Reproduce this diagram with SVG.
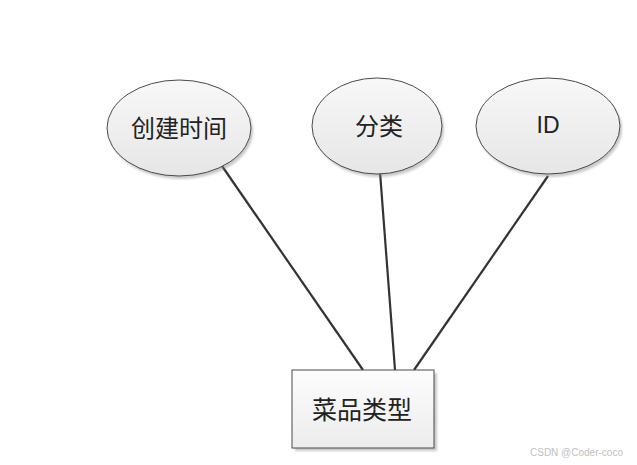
<svg xmlns="http://www.w3.org/2000/svg" width="637" height="465" viewBox="0 0 637 465">
<style>
.ent{stroke:#4a4a4a;stroke-width:1}
.lbl{font-family:"Noto Sans CJK SC","Liberation Sans",sans-serif;font-size:24px;fill:#222;text-anchor:middle;dominant-baseline:central}
.conn line{stroke:#333;stroke-width:2.2}
.wm{font-family:"Liberation Sans","DejaVu Sans",sans-serif;font-size:10px;fill:#c0c0c0}
</style>
<defs>
<linearGradient id="eg" x1="0" y1="0" x2="0" y2="1">
<stop offset="0" stop-color="#f8f8f8"/>
<stop offset="1" stop-color="#e6e6e6"/>
</linearGradient>
<linearGradient id="rg" x1="0" y1="0" x2="0" y2="1">
<stop offset="0" stop-color="#fdfdfd"/>
<stop offset="1" stop-color="#ececec"/>
</linearGradient>
<filter id="blur" x="-10%" y="-10%" width="130%" height="130%"><feGaussianBlur stdDeviation="1.2"/></filter>
</defs>
<g class="conn">
<line x1="222" y1="166" x2="363" y2="370"/>
<line x1="380" y1="172" x2="395" y2="370"/>
<line x1="548" y1="176" x2="414" y2="370"/>
</g>
<g id="attr-time">
<ellipse cx="181" cy="131" rx="72" ry="48" fill="#888" opacity="0.45" filter="url(#blur)"/>
<ellipse class="ent" cx="179" cy="128" rx="72" ry="48" fill="url(#eg)"/>
<text class="lbl" x="179" y="126">创建时间</text>
</g>
<g id="attr-cat">
<ellipse cx="379" cy="129" rx="65" ry="48" fill="#888" opacity="0.45" filter="url(#blur)"/>
<ellipse class="ent" cx="377" cy="126" rx="65" ry="48" fill="url(#eg)"/>
<text class="lbl" x="379" y="124">分类</text>
</g>
<g id="attr-id">
<ellipse cx="550" cy="129" rx="72" ry="48" fill="#888" opacity="0.45" filter="url(#blur)"/>
<ellipse class="ent" cx="548" cy="126" rx="72" ry="48" fill="url(#eg)"/>
<text class="lbl" x="548" y="125" style="font-family:'Liberation Sans',sans-serif;font-size:23px">ID</text>
</g>
<g id="entity">
<rect x="295" y="373" width="142" height="78" fill="#888" opacity="0.45" filter="url(#blur)"/>
<rect class="ent" x="292" y="370" width="142" height="78" fill="url(#rg)"/>
<text class="lbl" x="362" y="408" style="font-size:25px">菜品类型</text>
</g>
<text class="wm" x="530" y="456">CSDN @Coder-coco</text>
</svg>
